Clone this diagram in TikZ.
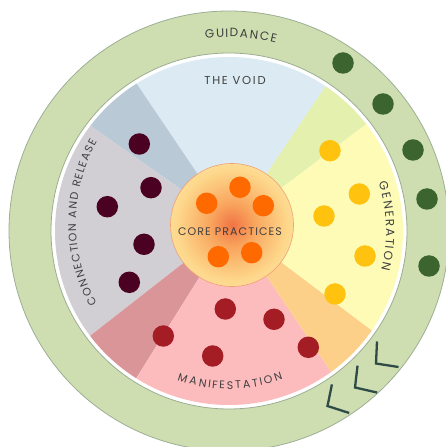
\documentclass[tikz,border=0pt]{standalone}
\usepackage{fontspec}
\setmainfont{Poppins}
\usetikzlibrary{positioning,decorations.text}

\definecolor{ringgreen}{HTML}{CEDEB1}
\definecolor{ringedge}{HTML}{9DAE94}
\definecolor{leafgreen}{HTML}{3B642E}
\definecolor{chevcol}{HTML}{2F4B48}
\definecolor{voidblue}{HTML}{DCEBF3}
\definecolor{voidgrey}{HTML}{B9C9D6}
\definecolor{relgrey}{HTML}{D1CED4}
\definecolor{relpink}{HTML}{DA9598}
\definecolor{manipink}{HTML}{FCBCBE}
\definecolor{maniorange}{HTML}{FDD08A}
\definecolor{genyellow}{HTML}{FDFBB6}
\definecolor{gengreen}{HTML}{E3F0AE}
\definecolor{coreedge}{HTML}{F2A073}
\definecolor{coreorange}{HTML}{FF6A00}
\definecolor{genamber}{HTML}{FFC20F}
\definecolor{relmaroon}{HTML}{4A0122}
\definecolor{manired}{HTML}{A51D24}
\definecolor{labelgrey}{HTML}{404040}
\definecolor{corec1}{HTML}{F07444}
\definecolor{corec2}{HTML}{F9A55E}
\definecolor{corec3}{HTML}{FDD68A}
\definecolor{corec4}{HTML}{FFF3B8}

\pgfdeclareradialshading{corefill}{\pgfpoint{0bp}{0bp}}{color(0bp)=(corec1); color(9bp)=(corec2); color(22bp)=(corec3); color(36bp)=(corec4); color(50bp)=(corec4)}

\newcommand\lblfont[2]{\fontsize{#1}{#1}\selectfont\addfontfeature{LetterSpace=#2}}

\begin{document}
\begin{tikzpicture}[x=1pt, y=1pt,
    dot/.style={circle, inner sep=0pt, minimum size=21.5pt},
    lbl/.style={text=labelgrey, inner sep=0pt},
    arclbl/.style 2 args={decorate, decoration={text effects along path, text={#1},
        text effects/.cd, fit text to path, characters={text along path, text=labelgrey, font=\lblfont{#2}{0}}}},
    chev/.style={draw=chevcol, line width=2.3pt}]
    \useasboundingbox (0,0) rectangle (446,447);
    \clip (0,0) rectangle (446,447);
    \coordinate (ctr) at (229,216);
    \coordinate (hub) at (232,222);
    \coordinate (relctr) at (243,224);

    \fill[ringgreen, draw=ringedge, line width=0.8pt, even odd rule] (ctr) circle (220) (ctr) circle (178);

    \begin{scope}
        \clip (ctr) circle (174);
        \foreach \a/\b/\c in {56/124/voidblue, 124/145/voidgrey, 145/218/relgrey, 218/238/relpink,
                238/304/manipink, 304/323/maniorange, 323/397/genyellow, 37/56/gengreen}
            \fill[\c] (hub) -- ++(\a:260) arc[start angle=\a, end angle=\b, radius=260] -- cycle;
    \end{scope}

    \node[circle, minimum size=123pt, inner sep=0pt, shading=corefill, draw=coreedge, line width=0.6pt] (core) at (hub) {};

    \foreach \x/\y [count=\i] in {240/259.7, 206.7/243.7, 263.3/241.3, 218.3/190.3, 251.7/194.3}
        \node[dot, fill=coreorange] (c\i) at (\x,\y) {};
    \foreach \x/\y [count=\i] in {330/296.3, 359.3/253, 324/231, 365/191, 335/153}
        \node[dot, fill=genamber] (g\i) at (\x,\y) {};
    \foreach \x/\y [count=\i] in {139.3/303, 151/259.3, 107.3/240.3, 144/202.7, 129.3/164.7}
        \node[dot, fill=relmaroon] (r\i) at (\x,\y) {};
    \foreach \x/\y [count=\i] in {225.3/138, 274/127.7, 163.3/111, 308.3/99.7, 212.7/91}
        \node[dot, fill=manired] (m\i) at (\x,\y) {};
    \foreach \x/\y [count=\i] in {343/384, 383/343, 413/297, 427/248, 429/181}
        \node[dot, fill=leafgreen] (l\i) at (\x,\y) {};

    \foreach \x/\y/\r in {376/83.5/0, 355/59.5/-4, 327.5/41/-9}
        \draw[chev, rotate around={\r:(\x,\y)}] (\x,\y) ++(1,22) -- (\x,\y) -- ++(22.5,-3.5);

    \node[lbl, font=\lblfont{11}{10}] (corelbl) at (230,215.5) {CORE PRACTICES};
    \node[lbl, font=\lblfont{11.5}{15}] (void) at (235,367) {THE VOID};

    \path[arclbl={GUIDANCE}{12}] (ctr) ++(97:194) arc[start angle=97, end angle=76, radius=194];
    \path[arclbl={GENERATION}{12}] (ctr) ++(17.8:157) arc[start angle=17.8, end angle=-14.4, radius=157];
    \path[arclbl={CONNECTION AND RELEASE}{11}] (relctr) ++(209:167) arc[start angle=209, end angle=151, radius=167];
    \path[arclbl={MANIFESTATION}{11}] (ctr) ++(250.8:158) arc[start angle=250.8, end angle=290, radius=158];
\end{tikzpicture}
\end{document}
